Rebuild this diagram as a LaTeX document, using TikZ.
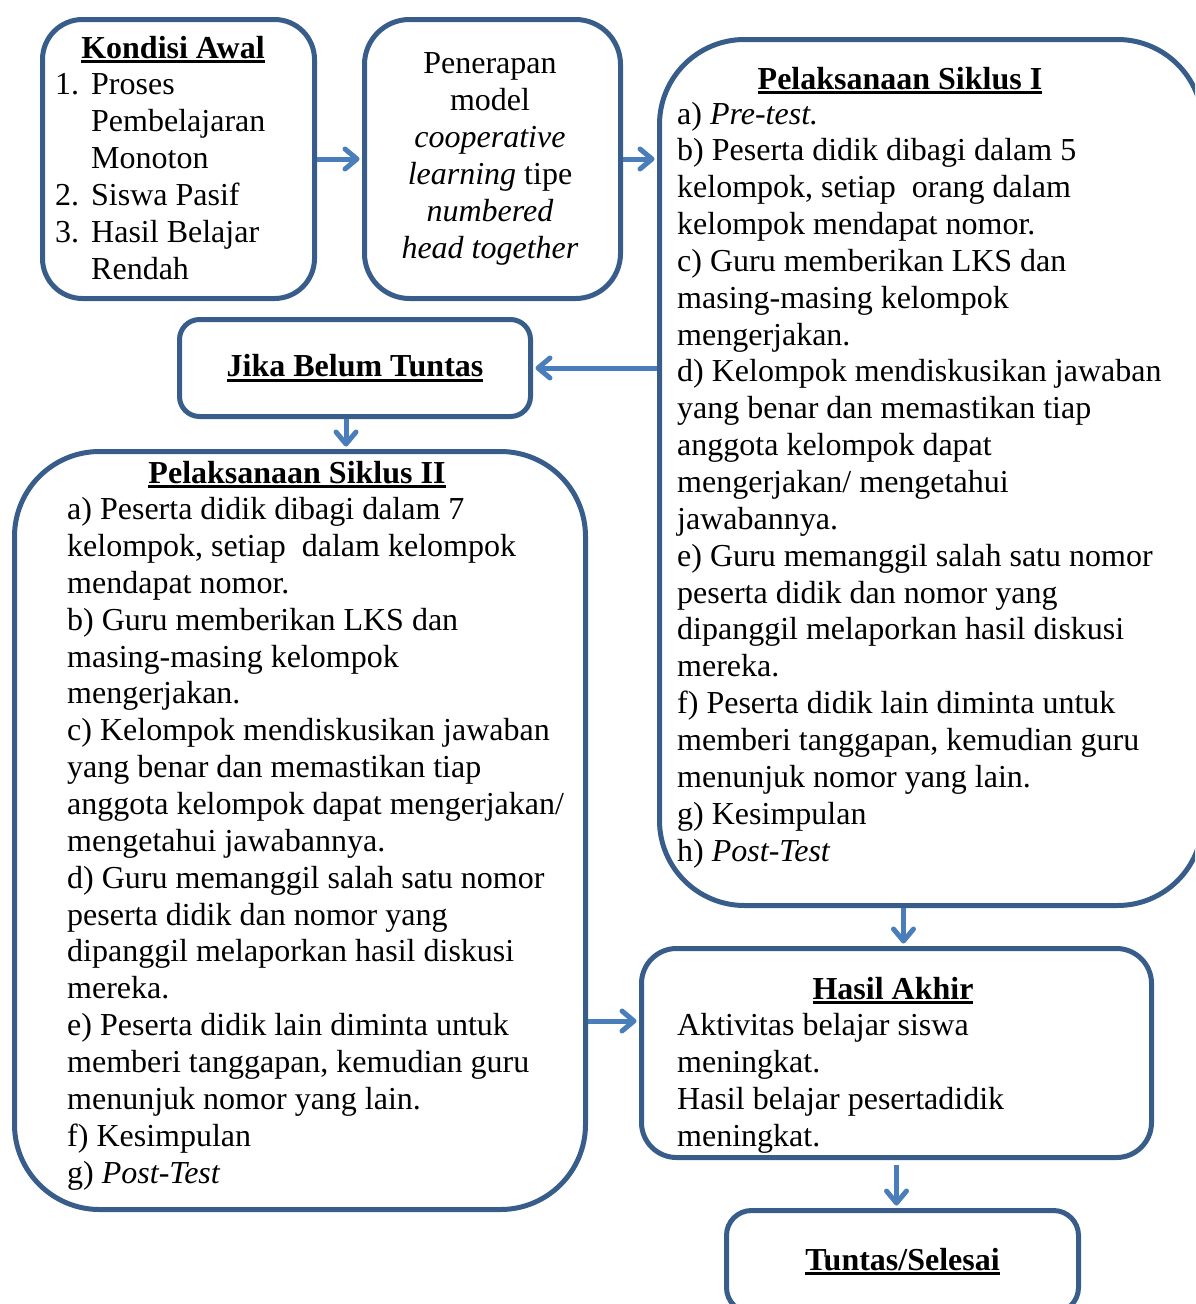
\documentclass[tikz,border=0pt]{standalone}
\usepackage{fontspec}
\setmainfont{Liberation Serif}
\usepackage{tikz}
\usetikzlibrary{arrows.meta}
\usetikzlibrary{calc}

\definecolor{garis}{RGB}{56,93,138}
\definecolor{panahbiru}{RGB}{74,126,187}
\newsavebox{\kotakteks}
\newcommand{\gbawah}[1]{\sbox{\kotakteks}{#1}\rlap{\rule[-5pt]{\wd\kotakteks}{2.8pt}}\usebox{\kotakteks}}

\tikzset{
  kotak/.style={draw=garis, line width=5pt, rounded corners=#1, anchor=north west, inner sep=0pt},
  kotak/.default=40pt,
  isi/.style={font=\fontsize{32}{36.85}\selectfont, align=left, anchor=base west, inner sep=0pt},
  tengah/.style={font=\fontsize{32}{37}\selectfont, align=center, anchor=base, inner sep=0pt},
  judul/.style={font=\fontsize{32}{36.85}\selectfont\bfseries, anchor=base, inner sep=0pt},
  panah/.style={draw=panahbiru, line width=5pt, -{Straight Barb[length=12pt,width=20pt,round]}, shorten >=2.5pt}
}

\begin{document}
\begin{tikzpicture}[x=1pt,y=-1pt]
  \useasboundingbox (0,0) rectangle (1195,1304);
  \clip (0,0) rectangle (1195,1304);

  \node[kotak=40pt, minimum width=272pt, minimum height=279pt] (kondisi) at (40,17) {};
  \node[kotak=45pt, minimum width=256pt, minimum height=279pt] (penerapan) at (362,17) {};
  \node[kotak=85pt, minimum width=543pt, minimum height=866pt] (siklusA) at (657,37) {};
  \node[kotak=20pt, minimum width=351pt, minimum height=97pt, font=\fontsize{32}{37}\selectfont\bfseries] (jika) at (177,317) {\gbawah{Jika Belum Tuntas}};
  \node[kotak=85pt, minimum width=571pt, minimum height=758pt] (siklusB) at (12,449) {};
  \node[kotak=35pt, minimum width=510pt, minimum height=209pt] (hasil) at (639,946) {};
  \node[kotak=25pt, minimum width=352pt, minimum height=102pt, font=\fontsize{32}{37}\selectfont\bfseries] (tuntas) at (724,1208) {\gbawah{Tuntas/Selesai}};

  \node[judul] (kondisiJudul) at (173,58) {\gbawah{Kondisi Awal}};
  \node[isi] (kondisiIsi) at (55,279) {\makebox[36pt][l]{1.}Proses\\
    \hspace*{36pt}Pembelajaran\\
    \hspace*{36pt}Monoton\\
    \makebox[36pt][l]{2.}Siswa Pasif\\
    \makebox[36pt][l]{3.}Hasil Belajar\\
    \hspace*{36pt}Rendah};

  \node[tengah] (penerapanIsi) at (490,258) {Penerapan\\ model\\ \textit{cooperative}\\
    \textit{learning} tipe\\ \textit{numbered}\\ \textit{head together}};

  \node[judul] (siklusAJudul) at (900,89) {\gbawah{Pelaksanaan Siklus I}};
  \node[isi] (siklusAIsi) at (677,861) {a) \textit{Pre-test.}\\
    b) Peserta didik dibagi dalam 5\\
    kelompok, setiap\ \ orang dalam\\
    kelompok mendapat nomor.\\
    c) Guru memberikan LKS dan\\
    masing-masing kelompok\\
    mengerjakan.\\
    d) Kelompok mendiskusikan jawaban\\
    yang benar dan memastikan tiap\\
    anggota kelompok dapat\\
    mengerjakan/ mengetahui\\
    jawabannya.\\
    e) Guru memanggil salah satu nomor\\
    peserta didik dan nomor yang\\
    dipanggil melaporkan hasil diskusi\\
    mereka.\\
    f) Peserta didik lain diminta untuk\\
    memberi tanggapan, kemudian guru\\
    menunjuk nomor yang lain.\\
    g) Kesimpulan\\
    h) \textit{Post-Test}};

  \node[judul] (siklusBJudul) at (297,483) {\gbawah{Pelaksanaan Siklus II}};
  \node[isi] (siklusBIsi) at (67,1183) {a) Peserta didik dibagi dalam 7\\
    kelompok, setiap\ \ dalam kelompok\\
    mendapat nomor.\\
    b) Guru memberikan LKS dan\\
    masing-masing kelompok\\
    mengerjakan.\\
    c) Kelompok mendiskusikan jawaban\\
    yang benar dan memastikan tiap\\
    anggota kelompok dapat mengerjakan/\\
    mengetahui jawabannya.\\
    d) Guru memanggil salah satu nomor\\
    peserta didik dan nomor yang\\
    dipanggil melaporkan hasil diskusi\\
    mereka.\\
    e) Peserta didik lain diminta untuk\\
    memberi tanggapan, kemudian guru\\
    menunjuk nomor yang lain.\\
    f) Kesimpulan\\
    g) \textit{Post-Test}};

  \node[judul] (hasilJudul) at (893,999) {\gbawah{Hasil Akhir}};
  \node[isi] (hasilIsi) at (677,1146) {Aktivitas belajar siswa\\
    meningkat.\\
    Hasil belajar pesertadidik\\
    meningkat.};

  \coordinate (masukHasil) at ([yshift=32pt]hasil.west);
  \coordinate (masukHasilAtas) at ([xshift=7pt]hasil.north);
  \coordinate (masukSiklusB) at ([xshift=-9pt]jika.south);

  \draw[panah] (kondisi) -- (penerapan);
  \draw[panah] (penerapan.east) -- (penerapan.east -| siklusA.west);
  \draw[panah] (siklusA.west |- jika.east) -- (jika.east);
  \draw[panah] (masukSiklusB) -- (masukSiklusB |- siklusB.north);
  \draw[panah] (masukHasilAtas |- siklusA.south) -- (masukHasilAtas);
  \draw[panah] (siklusB.east |- masukHasil) -- (masukHasil);
  \draw[panah, shorten <=5pt] (hasil.south) -- (hasil.south |- tuntas.north);
\end{tikzpicture}
\end{document}
